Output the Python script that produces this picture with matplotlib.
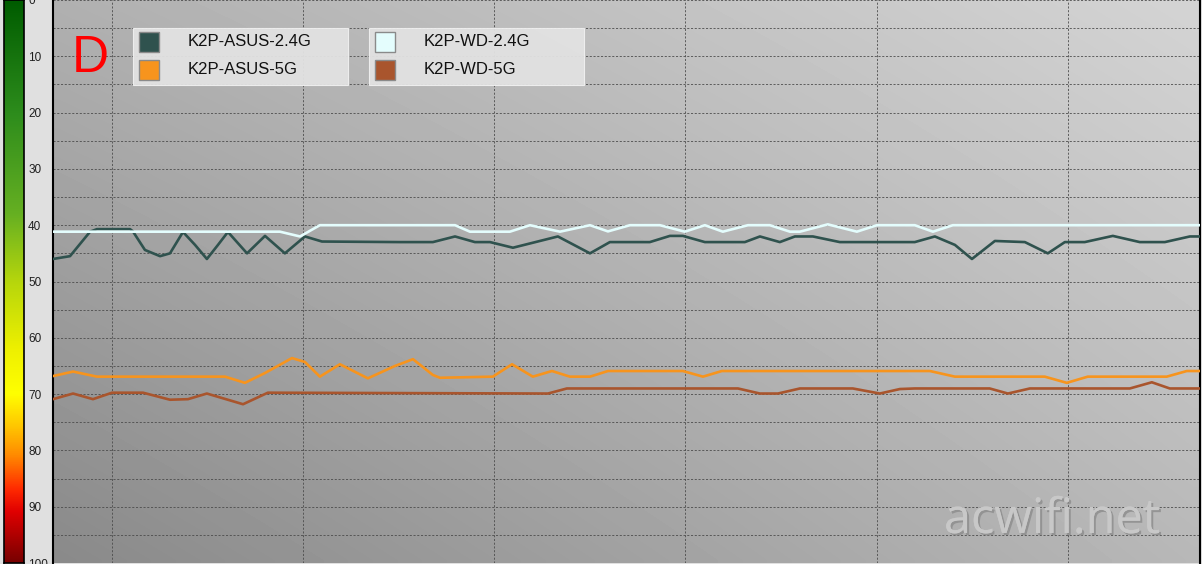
import numpy as np
import matplotlib.pyplot as plt
from matplotlib.colors import LinearSegmentedColormap
from matplotlib.patches import Rectangle
import matplotlib.patheffects as pe

#signal strength traces, x = time [s], y = signal level (0 top .. 100 bottom)
names = ['K2P-ASUS-2.4G', 'K2P-WD-2.4G', 'K2P-ASUS-5G', 'K2P-WD-5G']
colors = ['#2f524e', '#e4fdfd', '#f7941d', '#a9552d']

t_asus24 = [0, 0.89, 1.94, 2.3, 4.03, 4.18, 4.81, 5.6, 6.12, 6.8, 7.43, 8.05, 8.63, 9.15, 10.15,
            11.09, 12.13, 13.18, 14.07, 18.15, 19.87, 21.03, 22.07, 22.86, 24.06, 26.41, 28.09,
            29.13, 31.22, 32.27, 32.95, 34.1, 36.19, 36.98, 38.02, 38.81, 39.75, 41.16, 45.08,
            46.13, 47.18, 48.07, 49.27, 50.84, 52.04, 52.93, 53.97, 55.44, 56.85, 58.16, 59.47, 60]
v_asus24 = [46.0, 45.5, 41.15, 40.7, 40.7, 41.1, 44.4, 45.5, 45.0, 41.2, 43.5, 46.0, 43.5, 41.2, 45.0,
            41.9, 45.0, 42.0, 42.9, 43.0, 43.0, 42.0, 43.0, 43.0, 44.0, 42.0, 45.0,
            43.0, 43.0, 41.9, 41.9, 43.0, 43.0, 42.0, 43.0, 42.0, 42.0, 43.0, 43.0,
            42.0, 43.5, 46.0, 42.8, 43.0, 45.0, 43.0, 43.0, 41.9, 43.0, 43.0, 42.0, 42.0]

t_wd24 = [0, 11.87, 12.92, 13.96, 21.03, 21.81, 23.9, 24.95, 26.52, 28.09, 29.03, 30.18, 31.75,
          33.05, 34.1, 35.04, 36.35, 37.5, 38.55, 39.07, 40.53, 42.05, 43.1, 45.08, 46.03, 47.07, 60]
v_wd24 = [41.15, 41.15, 42.0, 40.0, 40.0, 41.15, 41.15, 40.0, 41.15, 40.0, 41.1, 40.0, 40.0,
          41.15, 40.0, 41.15, 40.0, 40.0, 41.15, 41.15, 39.85, 41.15, 40.0, 40.0, 41.15, 40.0, 40.0]

t_asus5 = [0, 1.05, 2.3, 9.0, 10.04, 11.09, 12.5, 13.18, 13.96, 15.01, 16.47, 17.89, 18.83, 19.87,
           20.24, 23.01, 24.01, 25.1, 26.1, 27.04, 28.09, 29.03, 32.95, 34.0, 34.99, 45.87, 47.18,
           51.88, 53.03, 54.13, 58.26, 59.31, 60]
v_asus5 = [66.8, 66.0, 66.9, 66.9, 68.0, 66.25, 63.6, 64.3, 66.9, 64.7, 67.2, 65.0, 63.8, 66.6,
           67.1, 66.9, 64.7, 66.9, 65.9, 66.9, 66.9, 65.9, 65.9, 66.9, 65.9, 65.9, 66.9,
           66.9, 68.0, 66.9, 66.9, 65.9, 65.9]

t_wd5 = [0, 1.05, 2.09, 3.09, 4.71, 6.12, 7.06, 8.05, 9.94, 11.24, 25.89, 26.88, 35.83, 36.98,
         37.92, 39.07, 41.84, 43.25, 44.3, 45.08, 49.0, 49.95, 51.1, 55.91, 56.33, 57.48, 58.42, 60]
v_wd5 = [70.9, 69.9, 70.9, 69.75, 69.75, 71.0, 70.9, 69.9, 71.8, 69.75, 69.9, 69.0, 69.0, 69.9,
         69.9, 69.0, 69.0, 69.9, 69.1, 69.0, 69.0, 69.9, 69.0, 69.0, 69.0, 67.9, 69.0, 69.0]

series = [(t_asus24, v_asus24), (t_wd24, v_wd24), (t_asus5, v_asus5), (t_wd5, v_wd5)]
yticks = list(range(0, 101, 10))
xgrid = [3.08 + 10 * k for k in range(6)]

W, H = 1202, 564
fig = plt.figure(figsize=(W / 100, H / 100), dpi=100)
fig.patch.set_facecolor('#e0e0e0')

def fx(px):
    return px / W

def fy(py):
    return 1 - py / H

#colour scale on the left
cax = fig.add_axes([fx(4), fy(563), fx(20), 563 / H])
cmap = LinearSegmentedColormap.from_list('lvl', [
    (0.0, '#005c00'), (0.2, '#2d8c1c'), (0.38, '#66b022'), (0.5, '#b6d60c'),
    (0.62, '#eef000'), (0.7, '#ffff00'), (0.76, '#ffc400'), (0.81, '#ff8a00'),
    (0.87, '#ff2a00'), (0.91, '#e00000'), (1.0, '#780000')])
cax.imshow(np.linspace(0, 1, 256).reshape(-1, 1), cmap=cmap, aspect='auto',
           extent=[0, 1, 100, 0])
cax.set_xlim(0, 1)
cax.set_ylim(100, 0)
cax.set_xticks([])
cax.yaxis.tick_right()
cax.set_yticks(yticks)
cax.set_yticklabels([str(v) for v in yticks], fontsize=8.5, family='Liberation Sans', color='#202020')
cax.tick_params(axis='y', length=0, pad=3)
for s in cax.spines.values():
    s.set_color('black')
    s.set_linewidth(1.2)

#main plot
ax = fig.add_axes([fx(53), fy(563), fx(1147), 563 / H])
grad = np.empty((100, 100))
gx = np.linspace(0, 1, 100)
gy = np.linspace(0, 1, 100)
for i, yy in enumerate(gy):
    grad[i] = 0.54 + 0.18 * gx + 0.15 * yy - 0.04 * gx * yy
ax.imshow(grad, cmap='gray', vmin=0, vmax=1, extent=[0, 1, 0, 1], transform=ax.transAxes,
          origin='lower', aspect='auto', zorder=0, interpolation='bilinear')
ax.set_xlim(0, 60)
ax.set_ylim(100, 0)
ax.set_yticks(np.arange(0, 101, 5))
ax.set_xticks(xgrid)
ax.set_xticklabels([])
ax.set_yticklabels([])
ax.tick_params(length=0)
ax.grid(True, color='#4c4c4c', linestyle=(0, (2.5, 2)), linewidth=0.6)
ax.set_axisbelow(True)
for key in ['top', 'bottom']:
    ax.spines[key].set_visible(False)
ax.spines['left'].set_linewidth(1.5)
ax.spines['right'].set_linewidth(1.5)

for (t, v), c in zip(series, colors):
    ax.plot(t, v, color=c, lw=1.9, solid_joinstyle='round', zorder=3)

#big letter
fig.text(fx(72), fy(58), 'D', color='#ff0000', fontsize=37, family='Liberation Sans',
         va='center', ha='left')

#legend boxes
for col, x0 in enumerate([133, 369]):
    fig.add_artist(Rectangle((fx(x0), fy(85)), fx(215), 57 / H, transform=fig.transFigure,
                             facecolor='#e2e2e2', edgecolor='#f0f0f0', lw=0.8, alpha=0.95, zorder=5))
    for row in range(2):
        k = row * 2 + col
        yc = 42 + row * 28
        fig.add_artist(Rectangle((fx(x0 + 6), fy(yc + 10)), fx(20), 20 / H, transform=fig.transFigure,
                                 facecolor=colors[k], edgecolor='#8a8a8a', lw=1, zorder=6))
        fig.text(fx(x0 + 55), fy(yc), names[k], fontsize=12, family='Liberation Sans',
                 color='#111111', va='center', ha='left', zorder=7)

#watermark
fig.text(fx(944), fy(533), 'acwifi.net', fontsize=35, family='Open Sans', color='#c8c8c8',
         ha='left', va='baseline', zorder=8,
         path_effects=[pe.withSimplePatchShadow(offset=(1.5, -1.5), shadow_rgbFace='#8c8c8c', alpha=0.8),
                       pe.Normal()])

fig.savefig('out.png', dpi=100, facecolor=fig.get_facecolor())
